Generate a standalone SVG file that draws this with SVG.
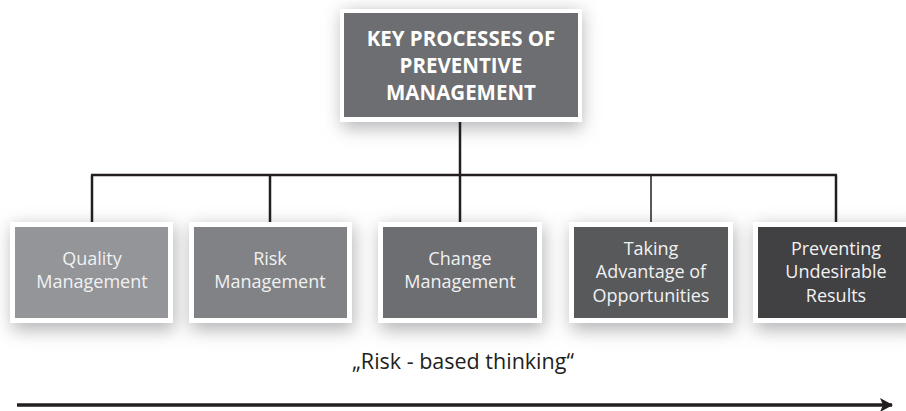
<svg xmlns="http://www.w3.org/2000/svg" width="906" height="411" viewBox="0 0 906 411">
<defs>
<filter id="sh" x="-30%" y="-40%" width="160%" height="180%">
<feGaussianBlur stdDeviation="9"/>
</filter>
<marker id="ah" markerWidth="14" markerHeight="14" refX="12" refY="7" orient="auto" markerUnits="userSpaceOnUse">
<path d="M0,0 L13,7 L0,14 L3,7 Z" fill="#231f20"/>
</marker>
</defs>
<style>
.shadow{fill:#b3b4b6;filter:url(#sh)}
.frame{fill:#ffffff}
.lbl{font-family:"Open Sans","Noto Sans","Liberation Sans",sans-serif;font-size:18px;fill:#f1f1f2;text-anchor:middle}
.head{font-family:"Open Sans","Noto Sans","Liberation Sans",sans-serif;font-size:20.5px;font-weight:bold;fill:#ffffff;text-anchor:middle}
.conn{stroke:#231f20;stroke-width:2.5;fill:none}
.cap{font-family:"Open Sans","Noto Sans","Liberation Sans",sans-serif;font-size:21.5px;fill:#231f20;text-anchor:middle}
</style>
<rect width="906" height="411" fill="#ffffff"/>
<g id="shadows">
<rect class="shadow" x="342" y="12" width="240" height="116"/>
<rect class="shadow" x="12" y="226" width="163" height="104"/>
<rect class="shadow" x="191" y="226" width="163" height="104"/>
<rect class="shadow" x="380" y="226" width="164" height="104"/>
<rect class="shadow" x="571" y="226" width="164" height="104"/>
<rect class="shadow" x="755" y="226" width="164" height="104"/>
</g>
<g id="connectors">
<line class="conn" x1="460" y1="122" x2="460" y2="222"/>
<line class="conn" x1="91" y1="175" x2="837" y2="175"/>
<line class="conn" x1="92" y1="175" x2="92" y2="222"/>
<line class="conn" x1="270" y1="175" x2="270" y2="222"/>
<line class="conn" x1="651" y1="175" x2="651" y2="222" style="stroke-width:1.5"/>
<line class="conn" x1="836" y1="175" x2="836" y2="222"/>
<line x1="17" y1="405" x2="892" y2="405" stroke="#231f20" stroke-width="3.5" marker-end="url(#ah)"/>
</g>
<g id="top">
<rect class="frame" x="340" y="9" width="242" height="113"/>
<rect x="344" y="13" width="234" height="104" fill="#6d6e71"/>
<text class="head" x="461" y="46">KEY PROCESSES OF</text>
<text class="head" x="461" y="73">PREVENTIVE</text>
<text class="head" x="461" y="100">MANAGEMENT</text>
</g>
<g id="quality">
<rect class="frame" x="10" y="222" width="163" height="101"/>
<rect x="15" y="227" width="153" height="91" fill="#939598"/>
<text class="lbl" x="92" y="265">Quality</text>
<text class="lbl" x="92" y="288">Management</text>
</g>
<g id="risk">
<rect class="frame" x="189" y="222" width="163" height="101"/>
<rect x="194" y="227" width="153" height="91" fill="#808285"/>
<text class="lbl" x="270" y="265">Risk</text>
<text class="lbl" x="270" y="288">Management</text>
</g>
<g id="change">
<rect class="frame" x="378" y="222" width="164" height="101"/>
<rect x="383" y="227" width="154" height="91" fill="#6d6e71"/>
<text class="lbl" x="460" y="265">Change</text>
<text class="lbl" x="460" y="288">Management</text>
</g>
<g id="taking">
<rect class="frame" x="569" y="222" width="164" height="101"/>
<rect x="574" y="227" width="154" height="91" fill="#58595b"/>
<text class="lbl" x="651" y="255">Taking</text>
<text class="lbl" x="651" y="278">Advantage of</text>
<text class="lbl" x="651" y="302">Opportunities</text>
</g>
<g id="preventing">
<rect class="frame" x="753" y="222" width="164" height="101"/>
<rect x="758" y="227" width="154" height="91" fill="#414042"/>
<text class="lbl" x="836" y="255">Preventing</text>
<text class="lbl" x="836" y="278">Undesirable</text>
<text class="lbl" x="836" y="302">Results</text>
</g>
<text class="cap" x="463" y="369">„Risk - based thinking“</text>
</svg>
